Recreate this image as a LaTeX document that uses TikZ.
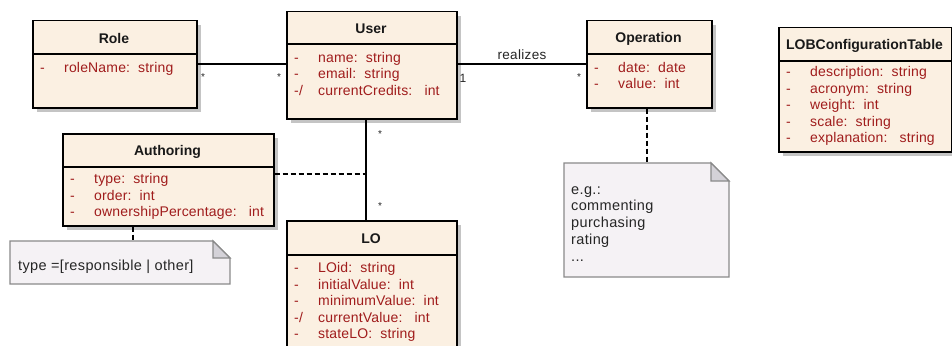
\documentclass[tikz,border=0pt]{standalone}
\usepackage{fontspec}
\setmainfont{Liberation Sans}
\newfontfamily\attrfont[LetterSpace=1.2]{Liberation Sans}
\newfontfamily\notefont[LetterSpace=2.5]{Liberation Sans}
\usetikzlibrary{shadows}
\definecolor{classfill}{HTML}{FBF0E2}
\definecolor{attrred}{HTML}{A01C1C}
\definecolor{notefill}{HTML}{F5F2F5}
\definecolor{noteline}{HTML}{8A8A8A}
\definecolor{foldfill}{HTML}{D4D2D8}
\definecolor{shadowgray}{HTML}{C4C4C4}
\tikzset{
  classbox/.style={draw=black, line width=1.5pt, fill=classfill, anchor=north west, inner sep=0pt,
    drop shadow={shadow xshift=4pt, shadow yshift=-4pt, fill=shadowgray, opacity=1}},
  divline/.style={draw=black, line width=1.5pt},
  titletext/.style={font=\fontsize{14}{16}\selectfont\bfseries, text=black!90, inner sep=0pt},
  attrtext/.style={font=\attrfont\fontsize{14}{16.5}\selectfont, text=attrred, anchor=north west, inner sep=0pt, align=left},
  assoc/.style={draw=black, line width=1.3pt},
  notelink/.style={draw=black, line width=1.3pt, dashed, dash pattern=on 5pt off 3pt},
  multlabel/.style={font=\fontsize{10}{12}\selectfont, text=black!85, inner sep=0pt},
  notetext/.style={font=\notefont\fontsize{14.5}{16.8}\selectfont, text=black!85, anchor=north west, inner sep=0pt, align=left},
}
\newcommand{\attrs}[1]{\begin{tabular}{@{}p{24pt}@{}l@{}}#1\end{tabular}}
\begin{document}
\begin{tikzpicture}[x=1pt,y=-1pt]
\useasboundingbox[fill=white] (0,0) rectangle (952,345);
\begin{scope}
\clip (0,0) rectangle (952,345);
% Role
\node[classbox, minimum width=164pt, minimum height=87pt] (role) at (32,20) {};
\draw[divline] (32,54) -- (196,54);
\node[titletext] (roleT) at (114,38.5) {Role};
\node[attrtext] (roleA) at (40,60.5) {\attrs{-&roleName:\ \ string}};
% User
\node[classbox, minimum width=170pt, minimum height=107pt] (user) at (286,11) {};
\draw[divline] (286,44) -- (456,44);
\node[titletext] (userT) at (371,29) {User};
\node[attrtext] (userA) at (294,50.5) {\attrs{-&name:\ \ string\\-&email:\ \ string\\-/&currentCredits:\ \ \ int}};
% Operation
\node[classbox, minimum width=125pt, minimum height=87pt] (op) at (586,20) {};
\draw[divline] (586,54) -- (711,54);
\node[titletext] (opT) at (648.5,38.5) {Operation};
\node[attrtext] (opA) at (594,60.5) {\attrs{-&date:\ \ date\\-&value:\ \ int}};
% LOBConfigurationTable
\node[classbox, minimum width=173pt, minimum height=124pt] (lob) at (778,27) {};
\draw[divline] (778,61) -- (951,61);
\node[titletext] (lobT) at (864.5,46) {LOBConfigurationTable};
\node[attrtext] (lobA) at (786,65) {\attrs{-&description:\ \ string\\-&acronym:\ \ string\\-&weight:\ \ int\\-&scale:\ \ string\\-&explanation:\ \ \ string}};
% Authoring
\node[classbox, minimum width=211pt, minimum height=92pt] (auth) at (62,133) {};
\draw[divline] (62,167) -- (273,167);
\node[titletext] (authT) at (167.5,151.5) {Authoring};
\node[attrtext] (authA) at (70,172) {\attrs{-&type:\ \ string\\-&order:\ \ int\\-&ownershipPercentage:\ \ \ int}};
% LO
\node[classbox, minimum width=170pt, minimum height=140pt] (lo) at (286,220) {};
\draw[divline] (286,255) -- (456,255);
\node[titletext] (loT) at (371,239) {LO};
\node[attrtext] (loA) at (294,261) {\attrs{-&LOid:\ \ string\\-&initialValue:\ \ int\\-&minimumValue:\ \ int\\-/&currentValue:\ \ \ int\\-&stateLO:\ \ string}};
% Note 1
\draw[draw=noteline, line width=1.3pt, fill=notefill] (10,241) -- (213,241) -- (230,258) -- (230,284) -- (10,284) -- cycle;
\draw[draw=noteline, line width=1.3pt, fill=foldfill] (213,241) -- (213,258) -- (230,258) -- cycle;
\node[inner sep=0pt, minimum width=220pt, minimum height=43pt, anchor=north west] (note1) at (10,241) {};
\node[notetext, anchor=west] (note1T) at (18,267) {type =[responsible | other]};
% Note 2
\draw[draw=noteline, line width=1.3pt, fill=notefill] (564,163) -- (711,163) -- (729,181) -- (729,277) -- (564,277) -- cycle;
\draw[draw=noteline, line width=1.3pt, fill=foldfill] (711,163) -- (711,181) -- (729,181) -- cycle;
\node[inner sep=0pt, minimum width=165pt, minimum height=114pt, anchor=north west] (note2) at (564,163) {};
\node[notetext] (note2T) at (571,186) {e.g.:\\commenting\\purchasing\\rating\\...};
% Connectors
\draw[assoc] (role.east |- 0,64) -- (user.west |- 0,64);
\draw[assoc] (user.east |- 0,64) -- (op.west |- 0,64);
\draw[assoc] (user.south -| 366,0) -- (lo.north -| 366,0);
\coordinate (authjoin) at (366,174);
\draw[notelink] (auth.east |- 0,174) -- (authjoin);
\draw[notelink] (auth.south -| 133,0) -- (note1.north -| 133,0);
\draw[notelink] (op.south -| 647,0) -- (note2.north -| 647,0);
% Labels
\node[multlabel] (m1) at (203,77) {*};
\node[multlabel] (m2) at (279,77) {*};
\node[multlabel, font=\fontsize{12}{14}\selectfont] (m3) at (463,78) {1};
\node[multlabel] (m4) at (579,77) {*};
\node[multlabel] (m5) at (380,134) {*};
\node[multlabel] (m6) at (380,206) {*};
\node[inner sep=0pt, font=\notefont\fontsize{13.5}{16}\selectfont, text=black!85] (rl) at (522,55) {realizes};
\end{scope}
\end{tikzpicture}
\end{document}
